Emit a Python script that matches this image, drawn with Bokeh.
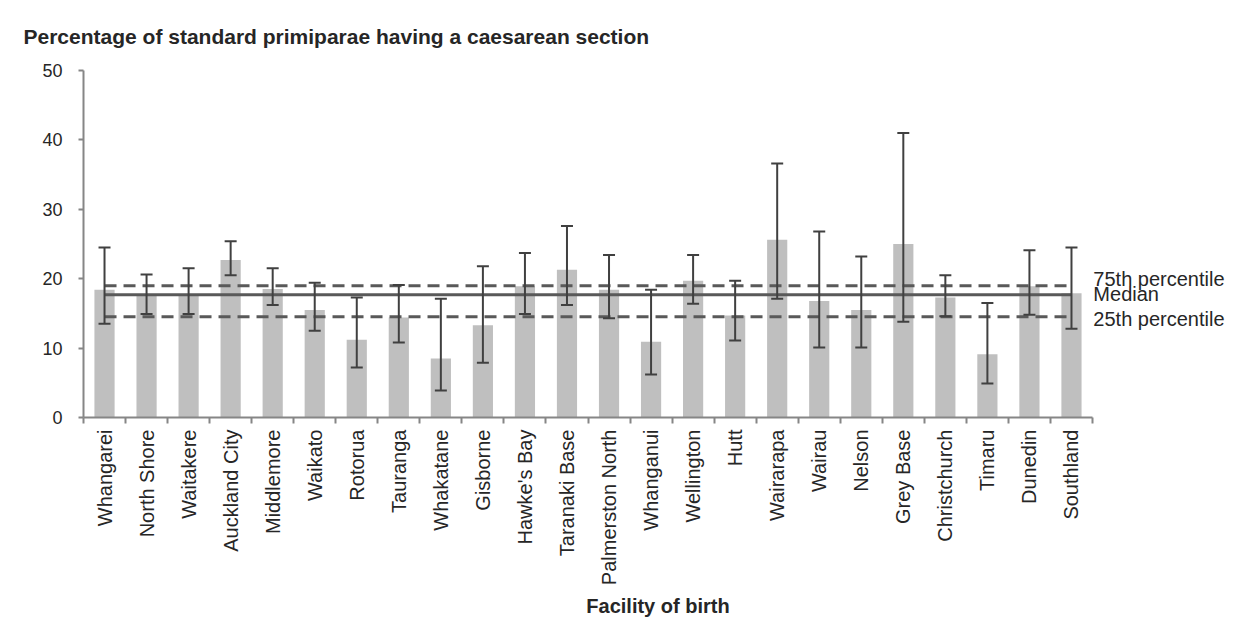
from bokeh.plotting import figure
from bokeh.models import ColumnDataSource, Whisker, TeeHead, FixedTicker, Range1d
from bokeh.core.properties import value
from bokeh.embed import file_html
from bokeh.resources import INLINE

facilities = ["Whangarei", "North Shore", "Waitakere", "Auckland City", "Middlemore", "Waikato",
              "Rotorua", "Tauranga", "Whakatane", "Gisborne", "Hawke's Bay", "Taranaki Base",
              "Palmerston North", "Whanganui", "Wellington", "Hutt", "Wairarapa", "Wairau",
              "Nelson", "Grey Base", "Christchurch", "Timaru", "Dunedin", "Southland"]
rate = [18.4, 17.8, 17.8, 22.7, 18.5, 15.5, 11.2, 14.4, 8.5, 13.3, 18.9, 21.3,
        18.4, 10.9, 19.7, 14.7, 25.6, 16.8, 15.5, 25.0, 17.3, 9.1, 18.9, 17.9]
ci_upper = [24.5, 20.6, 21.5, 25.4, 21.5, 19.4, 17.3, 19.1, 17.1, 21.8, 23.7, 27.6,
            23.4, 18.4, 23.4, 19.7, 36.6, 26.8, 23.2, 41.0, 20.5, 16.5, 24.1, 24.5]
ci_lower = [13.5, 14.9, 14.9, 20.5, 16.2, 12.5, 7.2, 10.8, 3.9, 7.9, 14.9, 16.2,
            14.3, 6.2, 16.4, 11.1, 17.1, 10.1, 10.1, 13.8, 14.6, 4.9, 14.8, 12.8]
ref_names = ["75th percentile", "Median", "25th percentile"]
ref_values = [19.0, 17.7, 14.5]
y_ticks = [0, 10, 20, 30, 40, 50]

TXT = "#262626"
FONT = "Liberation Sans"
n = len(facilities)
centers = [i + 0.5 for i in range(n)]
bounds = list(range(n + 1))

src = ColumnDataSource(dict(x=centers, rate=rate, lo=ci_lower, hi=ci_upper, name=facilities))

p = figure(width=1232, height=620, output_backend="svg", toolbar_location=None,
           x_range=Range1d(0, 27.33), y_range=Range1d(0, 50),
           min_border_left=83, min_border_right=0, min_border_top=70, min_border_bottom=203)
p.outline_line_color = None
p.grid.visible = False
p.background_fill_color = "white"

p.title.text = "Percentage of standard primiparae having a caesarean section"
p.title.text_font = FONT
p.title.text_font_size = "21px"
p.title.text_font_style = "bold"
p.title.text_color = TXT
p.title.align = "left"
p.title.offset = -60
p.title.standoff = 45

p.vbar(x="x", top="rate", width=0.48, source=src, fill_color="#bfbfbf", line_color=None)

dashes = ["12 7", "solid", "12 7"]
for nm, v, d in zip(ref_names, ref_values, dashes):
    p.segment(x0=centers[0], x1=centers[-1], y0=v, y1=v, line_color="#595959", line_width=3,
              line_dash=d)

w = Whisker(base="x", lower="lo", upper="hi", source=src, line_color="#404040", line_width=2,
            level="overlay",
            upper_head=TeeHead(size=12, line_color="#404040", line_width=2),
            lower_head=TeeHead(size=12, line_color="#404040", line_width=2))
p.add_layout(w)

label_offsets = [-7, -1, 2]
for nm, v, off in zip(ref_names, ref_values, label_offsets):
    p.text(x=[bounds[-1] + 0.02], y=[v], text=[nm], text_font=value(FONT), text_font_size="20px",
           text_color=TXT, text_baseline="middle", text_align="left", y_offset=off)

# x axis
xa = p.xaxis[0]
xa.bounds = (bounds[0], bounds[-1])
xa.ticker = FixedTicker(ticks=centers, minor_ticks=bounds)
xa.major_label_overrides = {c: f for c, f in zip(centers, facilities)}
xa.major_label_orientation = 1.5707963
xa.major_tick_out = 0
xa.major_tick_in = 0
xa.minor_tick_out = 6
xa.minor_tick_in = 0
xa.minor_tick_line_color = "#868686"
xa.minor_tick_line_width = 2
xa.axis_line_color = "#868686"
xa.axis_line_width = 2
xa.major_label_text_font = FONT
xa.major_label_text_font_size = "20px"
xa.major_label_text_color = TXT
xa.major_label_standoff = 6
xa.axis_label = "Facility of birth"
xa.axis_label_text_font = FONT
xa.axis_label_text_font_size = "20px"
xa.axis_label_text_font_style = "bold"
xa.axis_label_text_color = TXT
xa.axis_label_standoff = 7

# y axis
ya = p.yaxis[0]
ya.ticker = FixedTicker(ticks=y_ticks)
ya.minor_tick_line_color = None
ya.major_tick_out = 5
ya.major_tick_in = 0
ya.major_tick_line_color = "#868686"
ya.major_tick_line_width = 2
ya.axis_line_color = "#868686"
ya.axis_line_width = 2
ya.major_label_text_font = FONT
ya.major_label_text_font_size = "18px"
ya.major_label_text_color = TXT
ya.major_label_standoff = 16

open("out.html", "w").write(file_html(p, INLINE))
